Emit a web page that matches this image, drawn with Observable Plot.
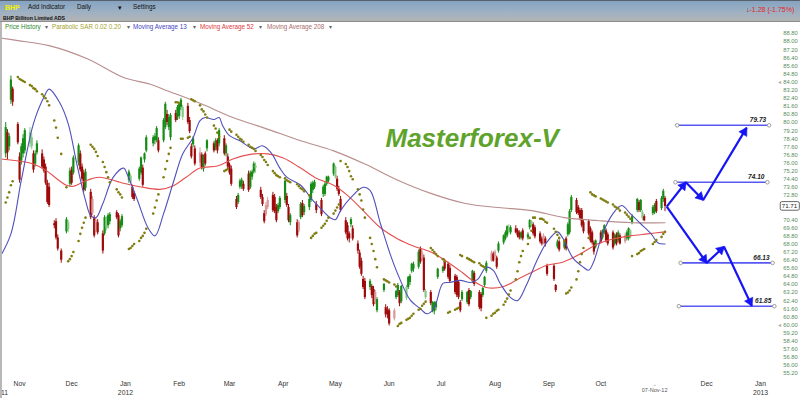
<!DOCTYPE html>
<html><head><meta charset="utf-8">
<script src="https://cdn.jsdelivr.net/npm/d3@7"></script>
<script src="https://cdn.jsdelivr.net/npm/@observablehq/plot@0.6"></script>
<style>
body{margin:0;background:#fff;}
#wrap{position:relative;width:800px;height:398px;overflow:hidden;font-family:"Liberation Sans",Arial,sans-serif;background:#fff;}
#bar{position:absolute;left:0;top:0;width:800px;height:22px;box-sizing:border-box;background:linear-gradient(#86a3c1,#9eb1c3 55%,#b3b3b3);border-top:1px solid #56636f;border-bottom:1px solid #8c8c8c;}
.t{position:absolute;white-space:nowrap;line-height:1;}
#chart{position:absolute;left:0;top:31px;}
#lborder{position:absolute;left:0;top:22px;width:2px;height:376px;background:#b8b8b8;}
</style></head>
<body>
<div id="wrap">
  <div id="bar"></div>
  <span class="t" style="left:5px;top:4px;font-size:7px;font-weight:bold;color:#f2f200">BHP</span>
  <span class="t" style="left:28px;top:4px;font-size:6.3px;color:#111">Add Indicator</span>
  <span class="t" style="left:77px;top:4px;font-size:6.3px;color:#111">Daily</span>
  <span class="t" style="left:118px;top:3.5px;font-size:7px;color:#111">▾</span>
  <span class="t" style="left:133px;top:4px;font-size:6.3px;color:#111">Settings</span>
  <span class="t" style="left:3px;top:16px;font-size:5.2px;font-weight:bold;color:#111">BHP Billiton Limited ADS</span>
  <span class="t" style="left:746px;top:5.5px;font-size:7px;color:#e42222"><b style="color:#b00000">↓</b>-1.28 (-1.75%)</span>
  <span class="t" style="left:5px;top:23.5px;font-size:6.3px;color:#2c8a2c">Price History</span>
  <span class="t" style="left:45px;top:23.5px;font-size:6.3px;color:#666">▾</span>
  <span class="t" style="left:52px;top:23.5px;font-size:6.3px;color:#a3a332">Parabolic SAR 0.02 0.20</span>
  <span class="t" style="left:127px;top:23.5px;font-size:6.3px;color:#666">▾</span>
  <span class="t" style="left:133px;top:23.5px;font-size:6.3px;color:#4646c0">Moving Average 13</span>
  <span class="t" style="left:193px;top:23.5px;font-size:6.3px;color:#666">▾</span>
  <span class="t" style="left:200px;top:23.5px;font-size:6.3px;color:#e03a3a">Moving Average 52</span>
  <span class="t" style="left:259px;top:23.5px;font-size:6.3px;color:#666">▾</span>
  <span class="t" style="left:267px;top:23.5px;font-size:6.3px;color:#a86c6c">Moving Average 208</span>
  <span class="t" style="left:329px;top:23.5px;font-size:6.3px;color:#666">▾</span>
  <div id="chart"></div>
  <div id="lborder"></div>
</div>
<script>
// ---- daily candles: [date, open, high, low, close]
const priceRows = [
["2011-10-21",74.0,76.0,73.6,75.6],["2011-10-24",76.9,80.0,76.5,79.5],["2011-10-25",79.0,79.3,76.3,77.0],["2011-10-26",77.6,78.9,77.2,78.6],["2011-10-27",82.2,84.6,81.8,84.2],["2011-10-28",83.3,83.5,81.6,82.0],["2011-10-31",79.8,80.0,77.8,78.0],
["2011-11-01",76.6,77.0,74.0,74.3],["2011-11-02",76.2,77.9,75.8,77.6],["2011-11-03",76.9,78.8,76.5,78.4],["2011-11-04",77.2,79.4,76.9,79.2],["2011-11-07",77.9,79.5,77.5,79.0],["2011-11-08",77.6,78.9,77.3,78.5],["2011-11-09",76.9,77.2,75.0,75.3],["2011-11-10",75.9,77.2,75.6,76.9],["2011-11-11",77.0,78.2,76.8,77.9],["2011-11-14",76.9,77.3,75.4,75.6],["2011-11-15",76.3,76.6,75.0,75.2],["2011-11-16",75.6,75.9,73.8,74.0],["2011-11-17",74.0,74.3,71.9,72.1],["2011-11-18",73.6,74.0,71.6,71.8],["2011-11-21",70.0,70.3,69.5,69.8],["2011-11-22",70.2,70.5,68.4,68.6],["2011-11-23",68.6,68.9,67.3,67.5],["2011-11-25",67.3,67.5,66.1,66.4],["2011-11-28",69.2,70.6,69.0,70.4],["2011-11-29",69.4,70.3,69.1,70.1],["2011-11-30",73.9,75.5,73.6,75.2],
["2011-12-01",75.3,75.6,73.8,74.0],["2011-12-02",75.0,76.7,74.8,76.5],["2011-12-05",76.0,77.9,75.7,77.7],["2011-12-06",76.9,77.2,75.1,75.3],["2011-12-07",75.6,75.9,74.2,74.4],["2011-12-08",75.0,75.3,73.1,73.3],["2011-12-09",73.5,75.4,73.2,75.1],["2011-12-12",73.1,73.4,70.4,70.6],["2011-12-13",72.4,72.7,70.8,71.0],["2011-12-14",70.5,70.8,68.6,68.8],["2011-12-15",70.3,70.6,69.1,69.3],["2011-12-16",70.1,70.4,68.9,69.1],["2011-12-19",69.0,69.3,67.0,67.3],["2011-12-20",69.0,70.8,68.8,70.6],["2011-12-21",69.6,70.7,69.3,70.5],["2011-12-22",69.8,71.0,69.5,70.8],["2011-12-23",70.2,71.1,69.9,70.9],["2011-12-27",71.1,71.3,70.4,70.6],["2011-12-28",70.8,71.0,68.6,68.8],["2011-12-29",69.5,70.4,69.2,70.2],["2011-12-30",69.8,70.9,69.6,70.7],
["2012-01-03",74.3,75.3,74.0,75.1],["2012-01-04",74.1,74.9,73.9,74.7],["2012-01-05",73.6,73.8,72.4,72.6],["2012-01-06",73.0,73.2,72.2,72.4],["2012-01-09",74.4,75.6,74.2,75.4],["2012-01-10",75.0,76.6,74.8,76.5],["2012-01-11",75.5,75.8,73.6,73.8],["2012-01-12",76.3,77.0,76.0,76.9],["2012-01-13",77.2,78.7,77.0,78.5],["2012-01-17",77.9,78.7,77.6,78.5],["2012-01-18",78.2,78.9,77.8,78.6],["2012-01-19",78.2,79.6,78.0,79.4],["2012-01-20",78.2,78.5,77.0,77.2],["2012-01-23",78.2,80.4,78.0,80.2],["2012-01-24",79.5,82.0,79.3,81.8],["2012-01-25",80.8,81.2,79.7,80.0],["2012-01-26",79.5,80.8,79.2,80.5],["2012-01-27",78.5,80.9,78.2,80.7],["2012-01-30",80.9,81.2,80.0,80.2],["2012-01-31",80.5,81.7,80.2,81.5],
["2012-02-01",80.6,82.0,80.3,81.8],["2012-02-02",81.5,82.4,81.2,82.2],["2012-02-03",80.5,81.7,80.2,81.5],["2012-02-06",81.6,81.9,79.8,80.0],["2012-02-07",80.2,80.5,78.9,79.1],["2012-02-08",77.6,77.9,76.4,76.6],["2012-02-09",77.8,78.6,77.5,78.4],["2012-02-10",77.4,77.7,75.7,75.9],["2012-02-13",77.0,77.5,75.6,76.0],["2012-02-14",76.8,77.0,75.3,75.5],["2012-02-15",75.4,76.8,75.1,76.6],["2012-02-16",76.9,77.1,75.7,75.9],["2012-02-17",77.4,78.3,77.1,78.2],["2012-02-21",77.9,78.1,77.0,77.2],["2012-02-22",77.5,78.4,77.2,78.2],["2012-02-23",78.2,78.4,76.9,77.2],["2012-02-24",77.9,79.4,77.6,79.2],["2012-02-27",78.4,78.7,76.7,76.9],["2012-02-28",76.9,77.9,76.6,77.7],["2012-02-29",76.6,76.9,75.4,75.6],
["2012-03-01",75.8,76.0,74.8,75.0],["2012-03-02",75.4,75.7,73.7,73.9],["2012-03-05",72.4,72.7,71.4,71.6],["2012-03-06",72.1,73.0,71.9,72.8],["2012-03-07",73.6,74.4,73.4,74.2],["2012-03-08",73.7,74.5,73.4,74.3],["2012-03-09",73.9,74.2,73.2,73.4],["2012-03-12",74.9,75.2,73.1,73.3],["2012-03-13",73.6,75.2,73.4,75.0],["2012-03-14",74.6,75.3,74.3,75.1],["2012-03-15",75.1,76.1,74.9,75.9],["2012-03-16",75.5,76.0,75.0,75.7],["2012-03-19",73.3,73.6,72.4,72.6],["2012-03-20",72.6,72.9,71.7,71.9],["2012-03-21",71.0,71.3,70.0,70.2],["2012-03-22",71.8,72.1,70.7,70.9],["2012-03-23",72.3,72.6,71.4,71.6],["2012-03-26",72.8,73.1,71.1,71.3],["2012-03-27",72.6,72.9,71.0,71.2],["2012-03-28",71.6,71.9,70.1,70.3],["2012-03-29",71.2,72.0,71.0,71.8],["2012-03-30",71.6,72.7,71.4,72.5],
["2012-04-02",72.3,74.4,72.0,74.2],["2012-04-03",72.7,73.0,71.6,71.8],["2012-04-04",71.6,71.9,70.1,70.3],["2012-04-05",70.1,71.0,69.8,70.8],["2012-04-09",70.1,70.4,68.6,68.8],["2012-04-10",70.1,70.3,69.1,69.3],["2012-04-11",70.6,72.1,70.4,71.9],["2012-04-12",72.0,72.3,70.6,70.8],["2012-04-13",71.1,71.9,70.8,71.7],["2012-04-16",71.6,72.6,71.3,72.4],["2012-04-17",72.3,74.1,72.1,73.9],["2012-04-18",73.3,74.2,73.0,74.0],["2012-04-19",73.6,74.3,73.4,74.1],["2012-04-20",71.9,72.2,71.0,71.3],["2012-04-23",72.3,72.5,70.7,70.9],["2012-04-24",72.9,73.8,72.6,73.6],["2012-04-25",72.9,74.1,72.7,73.9],["2012-04-26",73.9,74.7,73.7,74.6],["2012-04-27",74.2,74.7,74.0,74.6],["2012-04-30",74.9,76.0,74.7,75.9],
["2012-05-01",74.6,75.7,74.4,75.6],["2012-05-02",74.4,74.7,73.2,73.4],["2012-05-03",73.4,73.7,72.7,72.9],["2012-05-04",72.4,72.7,71.1,71.3],["2012-05-07",70.3,70.6,68.9,69.1],["2012-05-08",69.8,70.1,68.3,68.5],["2012-05-09",69.0,69.2,68.1,68.5],["2012-05-10",69.9,70.6,69.6,70.4],["2012-05-11",69.5,69.8,68.3,68.5],["2012-05-14",68.0,68.3,67.0,67.3],["2012-05-15",67.1,67.4,65.5,65.7],["2012-05-16",66.3,66.6,64.8,65.0],["2012-05-17",64.5,64.8,63.5,63.7],["2012-05-18",64.3,64.6,62.5,62.7],["2012-05-21",63.7,64.5,63.4,64.3],["2012-05-22",63.8,64.0,62.6,62.9],["2012-05-23",63.5,63.8,61.8,62.0],["2012-05-24",63.2,63.4,62.0,62.2],["2012-05-25",61.4,62.7,61.2,62.5],["2012-05-29",63.4,64.1,63.2,64.0],["2012-05-30",61.7,62.0,60.7,61.0],["2012-05-31",61.5,61.8,60.6,61.0],
["2012-06-01",61.4,61.6,59.9,60.1],["2012-06-04",61.4,61.6,60.4,60.6],["2012-06-05",62.7,63.4,62.5,63.3],["2012-06-06",62.9,64.1,62.7,63.9],["2012-06-07",63.2,63.4,61.8,62.1],["2012-06-08",62.3,63.9,62.1,63.8],["2012-06-11",62.6,63.9,62.4,63.7],["2012-06-12",63.7,64.8,63.5,64.7],["2012-06-13",64.2,65.0,63.9,64.8],["2012-06-14",65.3,66.1,65.1,66.0],["2012-06-15",65.5,66.2,65.2,66.0],["2012-06-18",65.7,67.4,65.5,67.2],["2012-06-19",67.5,67.7,66.0,66.2],["2012-06-20",67.1,67.3,66.3,66.5],["2012-06-21",66.6,66.9,63.2,63.4],["2012-06-22",62.7,63.5,62.5,63.3],["2012-06-25",63.2,63.4,61.9,62.1],["2012-06-26",61.4,62.3,61.2,62.2],["2012-06-27",61.3,62.3,61.0,62.2],["2012-06-28",61.7,62.3,61.4,62.2],["2012-06-29",64.7,65.6,64.5,65.5],
["2012-07-02",65.3,65.8,65.1,65.7],["2012-07-03",66.3,66.5,65.3,65.5],["2012-07-05",66.0,66.2,64.5,64.7],["2012-07-06",65.6,65.9,64.1,64.3],["2012-07-09",64.8,65.0,63.0,63.2],["2012-07-10",64.7,64.9,62.7,62.9],["2012-07-11",64.2,64.4,62.5,62.7],["2012-07-12",62.2,62.4,61.2,61.4],["2012-07-13",62.5,63.4,62.3,63.2],["2012-07-16",62.2,63.3,62.0,63.2],["2012-07-17",63.4,63.6,61.8,62.0],["2012-07-18",62.7,63.4,62.5,63.3],["2012-07-19",64.3,65.4,64.1,65.3],["2012-07-20",65.1,65.3,63.8,64.0],["2012-07-23",63.2,63.4,61.5,61.7],["2012-07-24",63.0,63.2,61.3,61.6],["2012-07-25",62.9,63.7,62.7,63.6],["2012-07-26",63.9,64.8,63.7,64.7],["2012-07-27",65.3,66.3,65.1,66.1],["2012-07-30",67.1,67.3,66.2,66.3],["2012-07-31",67.0,67.2,66.2,66.3],
["2012-08-01",67.2,67.4,66.6,66.7],["2012-08-02",66.6,66.8,65.5,65.7],["2012-08-03",67.3,68.2,67.1,68.0],["2012-08-06",68.1,68.9,67.9,68.8],["2012-08-07",68.5,69.3,68.3,69.1],["2012-08-08",68.8,69.8,68.6,69.7],["2012-08-09",69.2,69.9,69.0,69.6],["2012-08-10",69.1,69.8,68.9,69.6],["2012-08-13",69.5,69.8,69.0,69.1],["2012-08-14",69.3,69.5,68.6,68.8],["2012-08-15",69.1,69.3,68.4,68.6],["2012-08-16",68.6,69.2,68.4,69.1],["2012-08-17",69.3,69.5,68.3,68.5],["2012-08-20",68.6,69.1,68.4,68.9],["2012-08-21",69.6,70.4,69.4,70.3],["2012-08-22",69.8,70.3,69.6,70.2],["2012-08-23",69.9,70.1,68.8,69.0],["2012-08-24",69.6,69.8,68.5,68.7],["2012-08-27",69.0,69.2,68.0,68.2],["2012-08-28",68.5,68.7,67.8,68.0],["2012-08-29",68.8,69.0,67.9,68.1],["2012-08-30",68.5,68.7,67.7,68.0],["2012-08-31",65.8,66.0,64.8,65.0],
["2012-09-04",65.8,66.0,64.3,64.5],["2012-09-05",63.9,64.0,63.2,63.4],["2012-09-06",67.7,68.4,67.5,68.2],["2012-09-07",68.2,68.4,67.2,67.4],["2012-09-10",67.6,68.4,67.4,68.3],["2012-09-11",68.5,68.7,67.3,67.5],["2012-09-12",68.9,70.1,68.7,69.9],["2012-09-13",69.1,71.4,68.9,71.2],["2012-09-14",71.3,72.8,71.1,72.6],["2012-09-17",72.3,72.5,70.9,71.1],["2012-09-18",71.6,71.8,70.8,71.0],["2012-09-19",71.3,71.5,70.3,70.5],["2012-09-20",71.3,71.5,69.6,69.8],["2012-09-21",70.1,70.3,69.0,69.2],["2012-09-24",70.2,70.4,68.8,69.0],["2012-09-25",69.5,69.7,68.1,68.3],["2012-09-26",69.1,69.3,67.9,68.1],["2012-09-27",68.1,68.3,66.9,67.2],["2012-09-28",67.7,68.4,67.5,68.3],
["2012-10-01",69.1,69.3,68.0,68.2],["2012-10-02",68.6,69.4,68.4,69.3],["2012-10-03",69.1,69.9,68.9,69.8],["2012-10-04",69.3,69.5,68.1,68.3],["2012-10-05",68.9,69.1,67.8,68.0],["2012-10-08",69.1,69.3,67.4,67.6],["2012-10-09",68.0,69.0,67.8,68.8],["2012-10-10",68.9,69.1,67.8,68.0],["2012-10-11",68.3,69.3,68.1,69.1],["2012-10-12",68.8,69.0,67.9,68.0],["2012-10-15",68.8,69.0,68.0,68.2],["2012-10-16",68.5,69.3,68.3,69.1],["2012-10-17",68.5,69.6,68.3,69.5],["2012-10-18",68.7,69.4,68.5,69.3],["2012-10-19",70.1,70.9,69.9,70.7],["2012-10-22",71.3,72.5,71.1,72.4],["2012-10-23",72.1,72.3,71.1,71.3],["2012-10-24",71.3,72.4,71.1,72.3],["2012-10-25",70.5,71.3,70.3,71.1],["2012-10-26",70.7,70.9,70.2,70.3],["2012-10-31",71.0,71.8,70.8,71.6],
["2012-11-01",71.1,72.0,70.9,71.8],["2012-11-02",72.2,72.4,71.0,71.2],["2012-11-05",71.5,72.7,71.3,72.5],["2012-11-06",72.4,73.4,72.1,73.2],["2012-11-07",72.5,72.7,71.2,71.71]
];
// ---- Parabolic SAR (0.02, 0.20): [date, value]
const sarRows = [
["2011-10-21",71.1],["2011-10-24",72.1],["2011-10-25",72.6],["2011-10-26",73.1],["2011-10-27",73.8],["2011-10-28",74.2],["2011-10-31",84.5],
["2011-11-01",84.3],["2011-11-02",84.2],["2011-11-03",84.1],["2011-11-04",84.0],["2011-11-07",83.7],["2011-11-08",83.6],["2011-11-09",83.4],["2011-11-10",83.3],["2011-11-11",83.1],["2011-11-14",82.8],["2011-11-15",82.6],["2011-11-16",82.4],["2011-11-17",82.1],["2011-11-18",81.7],["2011-11-21",80.2],["2011-11-22",79.5],["2011-11-23",78.5],["2011-11-25",76.9],["2011-11-28",73.6],["2011-11-29",66.3],["2011-11-30",66.5],
["2011-12-01",66.8],["2011-12-02",67.2],["2011-12-05",68.3],["2011-12-06",69.0],["2011-12-07",69.6],["2011-12-08",70.1],["2011-12-09",70.6],["2011-12-12",77.8],["2011-12-13",77.6],["2011-12-14",77.4],["2011-12-15",77.1],["2011-12-16",76.7],["2011-12-19",76.1],["2011-12-20",75.6],["2011-12-21",75.1],["2011-12-22",74.6],["2011-12-23",74.1],["2011-12-27",73.4],["2011-12-28",73.1],["2011-12-29",72.9],["2011-12-30",72.6],
["2012-01-03",67.5],["2012-01-04",67.6],["2012-01-05",67.8],["2012-01-06",68.0],["2012-01-09",68.3],["2012-01-10",68.6],["2012-01-11",68.8],["2012-01-12",69.1],["2012-01-13",69.5],["2012-01-17",71.0],["2012-01-18",71.6],["2012-01-19",72.3],["2012-01-20",72.9],["2012-01-23",74.6],["2012-01-24",75.4],["2012-01-25",76.2],["2012-01-26",76.9],["2012-01-27",77.5],["2012-01-30",82.0],["2012-01-31",82.0],
["2012-02-01",81.9],["2012-02-02",78.4],["2012-02-03",78.4],["2012-02-06",78.5],["2012-02-07",78.6],["2012-02-08",82.3],["2012-02-09",82.2],["2012-02-10",82.1],["2012-02-13",81.7],["2012-02-14",81.3],["2012-02-15",81.1],["2012-02-16",80.8],["2012-02-17",80.5],["2012-02-21",79.7],["2012-02-22",79.4],["2012-02-23",79.0],["2012-02-24",78.6],["2012-02-27",75.2],["2012-02-28",75.3],["2012-02-29",75.4],
["2012-03-01",79.3],["2012-03-02",79.1],["2012-03-05",78.8],["2012-03-06",78.6],["2012-03-07",78.4],["2012-03-08",78.3],["2012-03-09",78.1],["2012-03-12",77.8],["2012-03-13",77.6],["2012-03-14",77.5],["2012-03-15",77.4],["2012-03-16",77.2],["2012-03-19",76.8],["2012-03-20",76.6],["2012-03-21",76.3],["2012-03-22",76.1],["2012-03-23",75.8],["2012-03-26",75.2],["2012-03-27",75.0],["2012-03-28",74.8],["2012-03-29",74.7],["2012-03-30",74.6],
["2012-04-02",74.5],["2012-04-03",74.3],["2012-04-04",74.2],["2012-04-05",74.1],["2012-04-09",73.9],["2012-04-10",73.7],["2012-04-11",73.5],["2012-04-12",73.4],["2012-04-13",73.2],["2012-04-16",72.8],["2012-04-17",68.6],["2012-04-18",68.8],["2012-04-19",69.0],["2012-04-20",69.1],["2012-04-23",69.6],["2012-04-24",69.8],["2012-04-25",70.0],["2012-04-26",70.3],["2012-04-27",70.6],["2012-04-30",71.0],
["2012-05-01",71.3],["2012-05-02",71.6],["2012-05-03",71.9],["2012-05-04",76.2],["2012-05-07",75.9],["2012-05-08",75.6],["2012-05-09",75.2],["2012-05-10",74.7],["2012-05-11",74.4],["2012-05-14",73.4],["2012-05-15",72.9],["2012-05-16",72.3],["2012-05-17",71.4],["2012-05-18",70.6],["2012-05-21",68.6],["2012-05-22",68.0],["2012-05-23",67.3],["2012-05-24",66.5],["2012-05-25",65.7],["2012-05-29",64.5],["2012-05-30",64.4],["2012-05-31",64.3],
["2012-06-01",64.2],["2012-06-04",64.0],["2012-06-05",63.8],["2012-06-06",59.9],["2012-06-07",60.1],["2012-06-08",60.2],["2012-06-11",60.5],["2012-06-12",60.6],["2012-06-13",60.7],["2012-06-14",60.9],["2012-06-15",61.1],["2012-06-18",61.5],["2012-06-19",61.6],["2012-06-20",61.9],["2012-06-21",62.1],["2012-06-22",62.3],["2012-06-25",67.6],["2012-06-26",67.4],["2012-06-27",67.2],["2012-06-28",67.0],["2012-06-29",66.8],
["2012-07-02",66.5],["2012-07-03",66.3],["2012-07-05",61.2],["2012-07-06",61.3],["2012-07-09",61.5],["2012-07-10",61.6],["2012-07-11",61.7],["2012-07-12",66.9],["2012-07-13",66.8],["2012-07-16",66.6],["2012-07-17",66.5],["2012-07-18",66.4],["2012-07-19",66.3],["2012-07-20",66.2],["2012-07-23",66.1],["2012-07-24",65.9],["2012-07-25",65.8],["2012-07-26",65.7],["2012-07-27",60.7],["2012-07-30",60.9],["2012-07-31",61.1],
["2012-08-01",61.2],["2012-08-02",61.4],["2012-08-03",61.5],["2012-08-06",62.0],["2012-08-07",62.3],["2012-08-08",62.6],["2012-08-09",63.0],["2012-08-10",63.4],["2012-08-13",64.5],["2012-08-14",65.3],["2012-08-15",66.2],["2012-08-16",66.8],["2012-08-17",67.3],["2012-08-20",68.0],["2012-08-21",68.6],["2012-08-22",69.3],["2012-08-23",70.6],["2012-08-24",70.6],["2012-08-27",70.5],["2012-08-28",70.5],["2012-08-29",70.4],["2012-08-30",70.2],["2012-08-31",70.1],
["2012-09-04",69.5],["2012-09-05",69.2],["2012-09-06",68.9],["2012-09-07",68.6],["2012-09-10",68.3],["2012-09-11",63.1],["2012-09-12",63.2],["2012-09-13",63.4],["2012-09-14",63.7],["2012-09-17",64.5],["2012-09-18",65.3],["2012-09-19",66.2],["2012-09-20",67.0],["2012-09-21",67.6],["2012-09-24",68.6],["2012-09-25",73.1],["2012-09-26",72.9],["2012-09-27",72.8],["2012-09-28",72.7],
["2012-10-01",72.5],["2012-10-02",72.4],["2012-10-03",72.3],["2012-10-04",72.2],["2012-10-05",72.1],["2012-10-08",71.9],["2012-10-09",71.7],["2012-10-10",71.6],["2012-10-11",71.5],["2012-10-12",71.3],["2012-10-15",71.1],["2012-10-16",70.9],["2012-10-17",70.7],["2012-10-18",70.5],["2012-10-19",66.8],["2012-10-22",67.0],["2012-10-23",67.1],["2012-10-24",67.3],["2012-10-25",67.4],["2012-10-26",67.5],["2012-10-31",68.0],
["2012-11-01",68.2],["2012-11-02",68.4],["2012-11-05",68.7],["2012-11-06",69.0],["2012-11-07",69.2]
];
// ---- moving averages: [date, value]
const ma13 = [["2011-10-21",66.8],["2011-10-27",69.0],["2011-11-02",74.3],["2011-11-09",79.9],["2011-11-15",82.5],["2011-11-18",83.3],["2011-11-24",82.0],["2011-11-29",79.9],["2011-12-04",75.9],["2011-12-09",72.3],["2011-12-12",70.8],["2011-12-15",70.6],["2011-12-19",72.0],["2011-12-25",74.6],["2011-12-31",75.5],["2012-01-02",74.9],["2012-01-08",72.3],["2012-01-14",69.6],["2012-01-18",68.8],["2012-01-23",71.0],["2012-01-29",74.3],["2012-02-03",76.9],["2012-02-09",78.5],["2012-02-13",80.2],["2012-02-16",80.5],["2012-02-21",80.3],["2012-02-24",80.5],["2012-02-26",79.7],["2012-03-01",78.7],["2012-03-07",78.2],["2012-03-15",77.4],["2012-03-20",77.7],["2012-03-25",77.0],["2012-03-30",75.5],["2012-04-03",74.6],["2012-04-11",73.8],["2012-04-18",72.3],["2012-04-22",71.6],["2012-04-28",70.6],["2012-05-01",70.4],["2012-05-04",71.3],["2012-05-10",72.6],["2012-05-17",73.6],["2012-05-21",73.3],["2012-05-27",70.0],["2012-06-02",66.8],["2012-06-07",64.6],["2012-06-13",62.5],["2012-06-19",61.6],["2012-06-23",61.1],["2012-06-27",61.7],["2012-07-02",64.1],["2012-07-06",64.2],["2012-07-12",64.4],["2012-07-18",64.2],["2012-07-22",64.5],["2012-07-27",65.7],["2012-07-31",65.4],["2012-08-04",64.1],["2012-08-10",62.7],["2012-08-14",62.4],["2012-08-19",63.9],["2012-08-25",66.3],["2012-08-31",68.2],["2012-09-06",69.2],["2012-09-09",68.6],["2012-09-15",66.6],["2012-09-21",65.7],["2012-09-24",65.4],["2012-09-27",66.3],["2012-10-02",69.0],["2012-10-08",71.0],["2012-10-13",71.8],["2012-10-18",71.0],["2012-10-24",70.0],["2012-10-30",69.0],["2012-11-03",68.1],["2012-11-07",68.0]];
const ma52 = [["2011-10-21",76.4],["2011-11-07",76.0],["2011-11-15",75.4],["2011-11-28",73.8],["2011-12-02",73.7],["2011-12-10",74.3],["2011-12-17",74.6],["2011-12-31",74.0],["2012-01-11",73.6],["2012-01-21",73.4],["2012-01-28",73.7],["2012-02-05",74.6],["2012-02-13",75.5],["2012-02-23",75.7],["2012-03-03",76.4],["2012-03-15",76.9],["2012-03-23",76.9],["2012-04-01",76.5],["2012-04-11",75.5],["2012-04-20",74.5],["2012-04-30",73.8],["2012-05-08",72.8],["2012-05-17",71.3],["2012-05-27",69.6],["2012-06-06",68.5],["2012-06-15",67.8],["2012-06-25",67.2],["2012-07-04",66.3],["2012-07-13",65.2],["2012-07-19",64.4],["2012-07-27",63.7],["2012-08-06",63.8],["2012-08-14",64.5],["2012-08-21",65.1],["2012-08-31",65.9],["2012-09-09",66.2],["2012-09-19",67.0],["2012-09-29",68.0],["2012-10-08",68.5],["2012-10-18",68.8],["2012-10-28",69.0],["2012-11-07",69.2]];
const ma208 = [["2011-10-21",88.35],["2011-10-31",88.1],["2011-11-18",87.6],["2011-12-10",86.3],["2011-12-31",84.45],["2012-01-15",83.8],["2012-01-25",83.15],["2012-02-13",81.9],["2012-03-03",80.5],["2012-03-22",79.4],["2012-04-11",78.2],["2012-04-30",77.2],["2012-05-18",75.9],["2012-06-06",74.3],["2012-06-25",73.0],["2012-07-15",72.0],["2012-08-03",71.6],["2012-08-22",71.3],["2012-09-10",70.6],["2012-09-30",70.3],["2012-10-19",70.1],["2012-11-07",70.1]];
// ---- forecast annotation
const levels = [[79.73,"2012-11-14","2013-01-06"],[74.10,"2012-11-13","2013-01-05"],[66.13,"2012-11-16","2013-01-08"],[61.85,"2012-11-15","2013-01-09"]];
const arrows = [
 ["2012-11-08",71.69,"2012-11-19",74.10],["2012-11-19",74.10,"2012-11-29",72.35],["2012-11-29",72.35,"2012-12-24",79.47],
 ["2012-11-08",71.69,"2012-12-01",66.13],["2012-12-01",66.13,"2012-12-11",67.73],["2012-12-11",67.73,"2012-12-27",61.90]
];
// ---- axes text (72.00 and 71.20 are hidden by the last-price box in the original)
const yTicks = ["88.80","88.00","87.20","86.40","85.60","84.80","84.00","83.20","82.40","81.60","80.80","80.00","79.20","78.40","77.60","76.80","76.00","75.20","74.40","73.60","72.80","70.40","69.60","68.80","68.00","67.20","66.40","65.60","64.80","64.00","63.20","62.40","61.60","60.80","60.00","59.20","58.40","57.60","56.80","56.00","55.20"];
const extremeMarks = [84.00, 60.00];
const lastPrice = ["71.71"];
const monthLabels = [["2011-11-01","Nov"],["2011-12-01","Dec"],["2012-01-01","Jan"],["2012-02-01","Feb"],["2012-03-01","Mar"],["2012-04-01","Apr"],["2012-05-01","May"],["2012-06-01","Jun"],["2012-07-01","Jul"],["2012-08-01","Aug"],["2012-09-01","Sep"],["2012-10-01","Oct"],["2012-12-01","Dec"],["2013-01-01","Jan"]];
const yearLabels = [["2012-01-01","2012"],["2013-01-01","2013"]];
const firstYear = [["2011-10-21","11"]];
const currentDate = [["2012-11-01","07-Nov-12"]];
const watermark = ["Masterforex-V"];

const D = s => new Date(s);
const xDomain = [D("2011-10-21"), D("2013-01-11")];
const W = 800, H = 367, mT = 2, mB = 25, mL = 0, mR = 22.7;

const candles = priceRows.map((r, i) => {
  const [d, o, h, l, c] = r;
  const prev = i > 0 ? priceRows[i - 1][4] : o;
  const up = c >= o;
  const pale = up ? c < prev : c > prev;
  const color = up ? (pale ? "#86c886" : "#168c16") : (pale ? "#d79a9a" : "#9e0a0a");
  return {date: D(d), o, h, l, c, color};
});

// screen-direction of each arrow (for arrowhead rotation only)
const xs = d3.scaleUtc().domain(xDomain).range([mL, W - mR]);
const ys = d3.scaleLinear().domain([55.2, 88.8]).range([H - mB, mT]);
const arrowData = arrows.map(([a, av, b, bv]) => {
  const dx = xs(D(b)) - xs(D(a)), dy = ys(bv) - ys(av);
  const L = Math.hypot(dx, dy), ux = dx / L, uy = dy / L;
  return {x1: D(a), y1: av, x2: D(b), y2: bv, ux, uy, angle: Math.atan2(ux, -uy) * 180 / Math.PI};
});
const BLUE = "#1414f5";

const marks = [
  Plot.ruleX(candles, {x: "date", y1: "l", y2: "h", stroke: "color", strokeWidth: 1}),
  Plot.ruleX(candles, {x: "date", y1: "o", y2: "c", stroke: "color", strokeWidth: 2.2}),
  Plot.line(ma208, {x: d => D(d[0]), y: d => d[1], stroke: "#b88e8e", strokeWidth: 1.1, curve: "catmull-rom"}),
  Plot.line(ma52, {x: d => D(d[0]), y: d => d[1], stroke: "#e45050", strokeWidth: 1.1, curve: "catmull-rom"}),
  Plot.line(ma13, {x: d => D(d[0]), y: d => d[1], stroke: "#5050bb", strokeWidth: 1.1, curve: "catmull-rom"}),
  Plot.dot(sarRows, {x: d => D(d[0]), y: d => d[1], r: 1.3, fill: "#7f7c10", stroke: "none"}),
  Plot.text(watermark, {frameAnchor: "top-left", text: d => d, dx: 385, dy: 95, textAnchor: "start", fontSize: 26, fontWeight: "bold", fontStyle: "italic", fill: "#5ea32b"}),
  Plot.ruleY(levels, {y: d => d[0], x1: d => D(d[1]), x2: d => D(d[2]), stroke: "#5858f2", strokeWidth: 1.6}),
  Plot.dot(levels, {x: d => D(d[1]), y: d => d[0], r: 1.8, stroke: "#888", fill: "#fff", strokeWidth: 0.8}),
  Plot.dot(levels, {x: d => D(d[2]), y: d => d[0], r: 1.8, stroke: "#888", fill: "#fff", strokeWidth: 0.8}),
  Plot.text(levels, {x: d => D(d[2]), y: d => d[0], text: d => d[0].toFixed(2), textAnchor: "end", dx: -3, dy: -5, fontSize: 6.5, fontWeight: "bold", fontStyle: "italic", fill: "#222"}),
  Plot.link(arrowData, {x1: "x1", y1: "y1", x2: "x2", y2: "y2", stroke: BLUE, strokeWidth: 2.2}),
  ...arrowData.map(a => Plot.dot([a], {x: "x2", y: "y2", symbol: "triangle", r: 3.4, rotate: a.angle, dx: -a.ux * 4.6, dy: -a.uy * 4.6, fill: BLUE, stroke: BLUE, strokeWidth: 0.5})),
  Plot.text(yTicks, {y: d => +d, text: d => d, frameAnchor: "right", dx: 12.7, textAnchor: "middle", fontSize: 5.8, fill: "#5a8c5a"}),
  Plot.text(extremeMarks, {y: d => d, text: () => "◂", frameAnchor: "right", dx: 1.8, textAnchor: "middle", fontSize: 6, fill: "#aaa"}),
  Plot.text(lastPrice, {y: d => +d, text: d => d, frameAnchor: "right", dx: 11.7, textAnchor: "middle", fontSize: 6.2, fill: "#222", ariaLabel: "lastprice"}),
  Plot.text(monthLabels, {x: d => D(d[0]), text: d => d[1], frameAnchor: "bottom", dy: 12, fontSize: 6.8, fill: "#333"}),
  Plot.text(yearLabels, {x: d => D(d[0]), text: d => d[1], frameAnchor: "bottom", dy: 21, fontSize: 6.8, fill: "#333"}),
  Plot.text(firstYear, {x: d => D(d[0]), text: d => d[1], frameAnchor: "bottom", dy: 21, dx: 0.5, textAnchor: "start", fontSize: 6.8, fill: "#333"}),
  Plot.text(currentDate, {x: d => D(d[0]), text: () => "▲", frameAnchor: "bottom", dy: 12.8, fontSize: 3, fill: "#bbb"}),
  Plot.text(currentDate, {x: d => D(d[0]), text: d => d[1], frameAnchor: "bottom", dy: 18.5, fontSize: 5.5, fill: "#555"})
];

const plot = Plot.plot({
  width: W, height: H,
  marginTop: mT, marginBottom: mB, marginLeft: mL, marginRight: mR,
  x: {type: "utc", domain: xDomain, axis: null},
  y: {domain: [55.2, 88.8], axis: null},
  style: {background: "white", fontFamily: "Liberation Sans, Arial, sans-serif", overflow: "hidden"},
  marks
});
document.getElementById("chart").appendChild(plot);

// rounded box around the last price label
let lp = plot.querySelector('[aria-label="lastprice"]');
if (lp && lp.tagName.toLowerCase() !== "text") lp = lp.querySelector("text");
if (!lp) lp = Array.from(plot.querySelectorAll("text")).find(t => t.textContent === lastPrice[0]);
if (lp) {
  const b = lp.getBBox();
  const r = document.createElementNS("http://www.w3.org/2000/svg", "rect");
  r.setAttribute("x", b.x - 1.5); r.setAttribute("y", b.y - 0.8);
  r.setAttribute("width", b.width + 3); r.setAttribute("height", b.height + 1.6);
  r.setAttribute("rx", 1.5); r.setAttribute("fill", "#fff"); r.setAttribute("stroke", "#555"); r.setAttribute("stroke-width", 0.9);
  const t = lp.getAttribute("transform");
  if (t) r.setAttribute("transform", t);
  lp.parentNode.insertBefore(r, lp);
}
</script>
</body></html>
